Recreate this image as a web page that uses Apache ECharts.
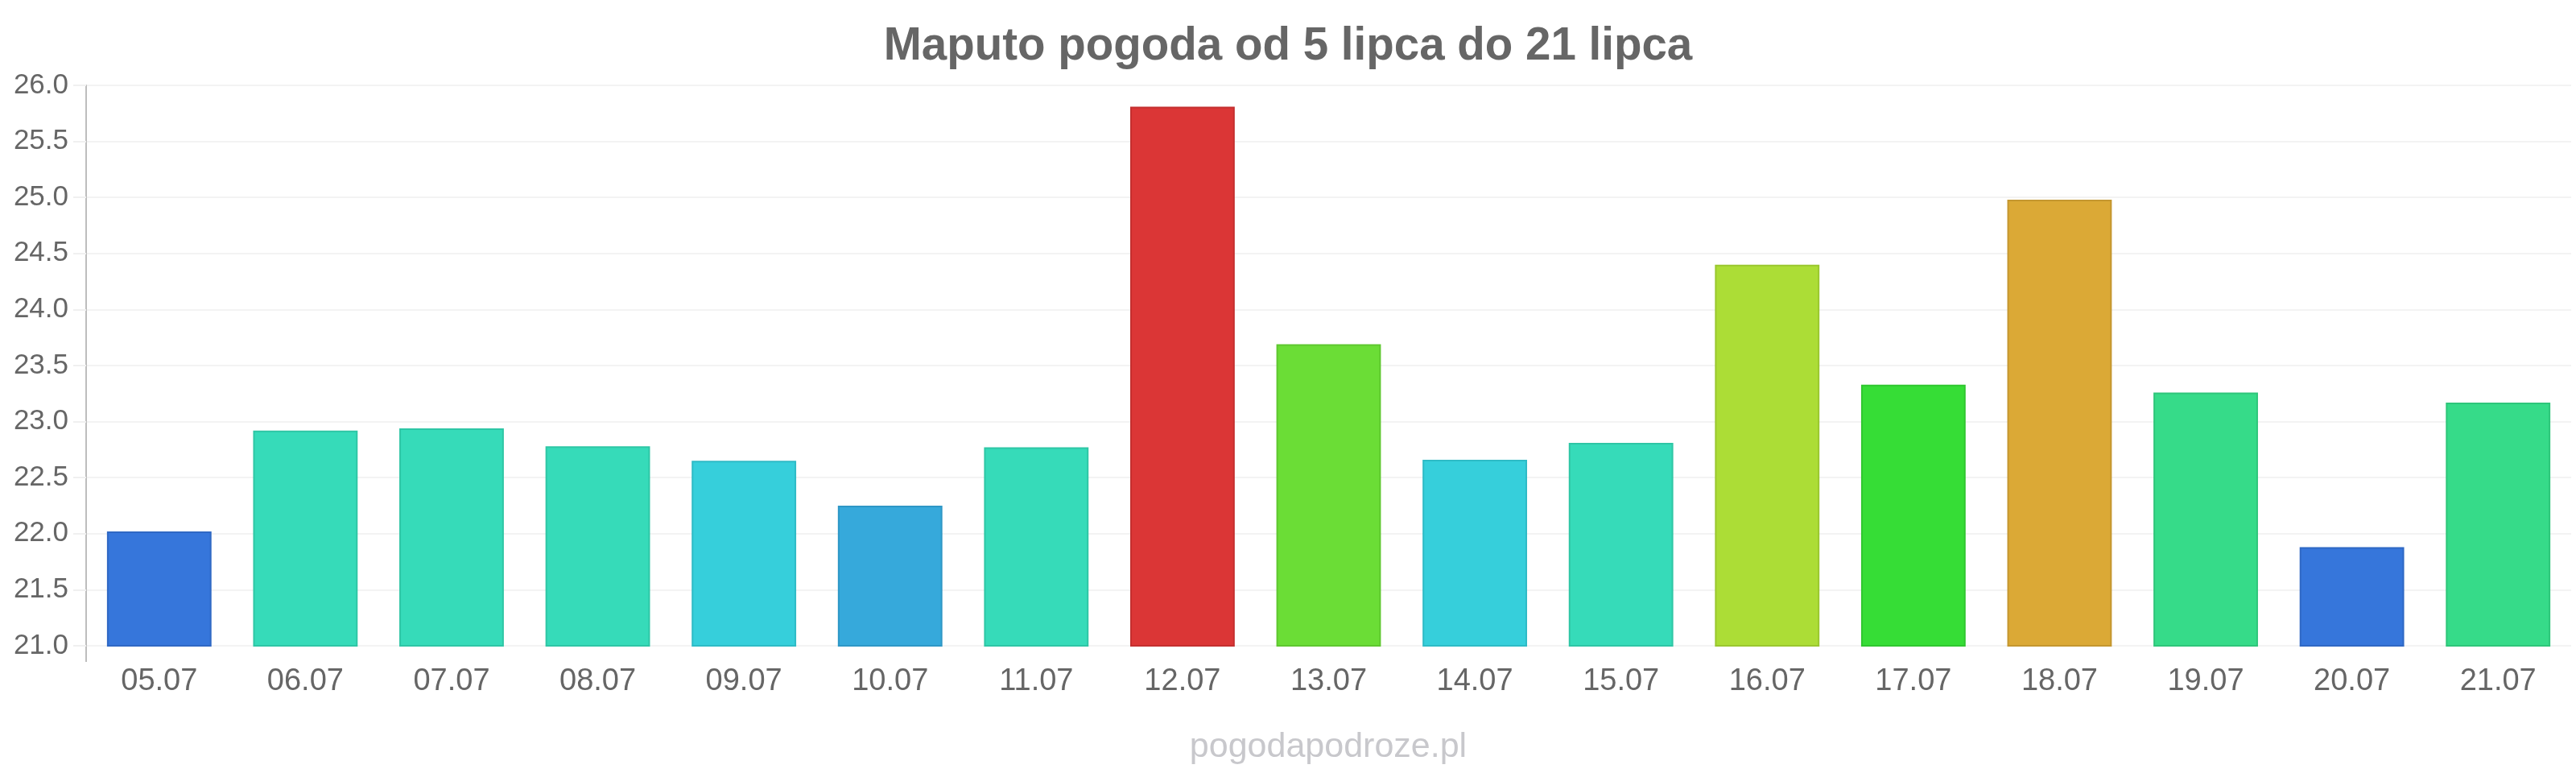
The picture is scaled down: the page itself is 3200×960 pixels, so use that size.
<!DOCTYPE html>
<html>
<head>
<meta charset="utf-8">
<title>Maputo pogoda</title>
<script src="https://cdn.jsdelivr.net/npm/echarts@6/dist/echarts.min.js"></script>
<style>
  html, body { margin: 0; padding: 0; background: #fff; }
  #chart { width: 3200px; height: 960px; }
</style>
</head>
<body>
<div id="chart"></div>
<script>
// dni (kategorie osi X)
var days = ['05.07', '06.07', '07.07', '08.07', '09.07', '10.07', '11.07', '12.07', '13.07',
            '14.07', '15.07', '16.07', '17.07', '18.07', '19.07', '20.07', '21.07'];
// temperatura w stopniach
var temps = [22.02, 22.92, 22.94, 22.78, 22.65, 22.25, 22.77, 25.81, 23.69,
             22.66, 22.81, 24.40, 23.33, 24.98, 23.26, 21.88, 23.17];
// kolory słupków
var barColors = ['#3676db', '#36dbb9', '#36dbb9', '#36dbb9', '#36cfdb', '#36a9db', '#36dbb9', '#db3636', '#6bdd36',
                 '#36cfdb', '#36dbb9', '#acdd36', '#36dd36', '#dba936', '#36db89', '#3676db', '#36db89'];
var borderColors = ['#2f68c4', '#2ec6a5', '#2ec6a5', '#2ec6a5', '#2ebbc6', '#2e97c6', '#2ec6a5', '#c42f2f', '#5ec72f',
                    '#2ebbc6', '#2ec6a5', '#9ac72f', '#2fc72f', '#c4962f', '#2ec67a', '#2f68c4', '#2ec67a'];
// zakres osi Y
var yMin = 21, yMax = 26, yStep = 0.5;

var font = '"Liberation Sans", Arial, sans-serif';

var seriesData = [];
for (var i = 0; i < temps.length; i++) {
    seriesData.push({
        value: temps[i],
        itemStyle: {color: barColors[i], borderColor: borderColors[i], borderWidth: 2}
    });
}

var myChart = echarts.init(document.getElementById('chart'));
var option = {
    animation: false,
    backgroundColor: '#fff',
    title: {
        text: 'Maputo pogoda od 5 lipca do 21 lipca',
        left: 'center',
        top: 25,
        textStyle: {fontFamily: font, fontSize: 56.5, fontWeight: 'bold', color: '#666'}
    },
    grid: {left: 107, right: 6, top: 106, bottom: 158},
    xAxis: {
        type: 'category',
        data: days,
        axisLine: {show: false},
        axisTick: {show: false},
        axisLabel: {fontFamily: font, fontSize: 38, color: '#666', margin: 26}
    },
    yAxis: {
        type: 'value',
        min: yMin,
        max: yMax,
        interval: yStep,
        axisLine: {show: true, lineStyle: {color: '#bdbdbd', width: 2}},
        axisTick: {show: true, length: 16, lineStyle: {color: '#f0f0f0', width: 2}},
        splitLine: {lineStyle: {color: '#f3f3f3', width: 2}},
        axisLabel: {
            fontFamily: font, fontSize: 35, color: '#666', margin: 22,
            formatter: function (v) { return v.toFixed(1); }
        }
    },
    graphic: [{
        // przedłużenie osi Y poniżej 21.0
        type: 'line',
        shape: {x1: 107, y1: 802, x2: 107, y2: 822},
        style: {stroke: '#bdbdbd', lineWidth: 2}
    }, {
        type: 'text',
        x: 1650,
        y: 907,
        style: {
            text: 'pogodapodroze.pl',
            fontFamily: font,
            fontSize: 43,
            fill: '#c8c8cc',
            align: 'center',
            verticalAlign: 'top'
        }
    }],
    series: [{
        type: 'bar',
        data: seriesData,
        barCategoryGap: '28.5%'
    }]
};
myChart.setOption(option);
</script>
</body>
</html>
